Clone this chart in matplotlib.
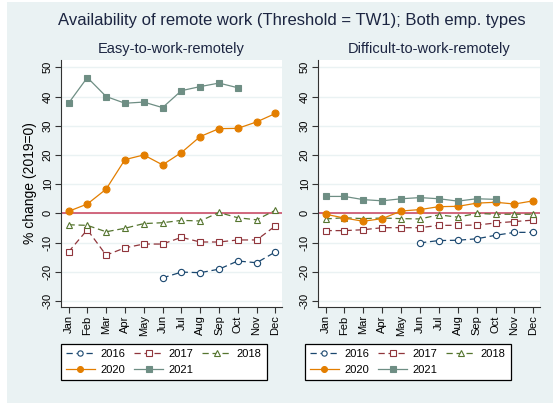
import numpy as np
import matplotlib
matplotlib.use('Agg')
import matplotlib.pyplot as plt
from matplotlib.patches import Rectangle

plt.rcParams['font.family'] = ['Liberation Sans', 'DejaVu Sans']

months = ['Jan', 'Feb', 'Mar', 'Apr', 'May', 'Jun', 'Jul', 'Aug', 'Sep', 'Oct', 'Nov', 'Dec']
nan = np.nan

# % change relative to 2019, by month
easy_2016 = [nan, nan, nan, nan, nan, -22.1, -20.1, -20.3, -19.1, -16.3, -16.9, -13.2]
easy_2017 = [-13.2, -5.6, -14.3, -11.8, -10.5, -10.5, -8.2, -9.8, -9.8, -9.1, -9.1, -4.3]
easy_2018 = [-3.9, -4.1, -6.3, -5.1, -3.5, -3.2, -2.4, -2.6, 0.3, -1.5, -2.2, 1.1]
easy_2020 = [0.7, 3.2, 8.3, 18.4, 20.0, 16.6, 20.8, 26.3, 29.0, 29.1, 31.3, 34.2]
easy_2021 = [37.7, 46.5, 40.0, 37.7, 38.1, 36.2, 42.0, 43.4, 44.6, 43.0, nan, nan]

diff_2016 = [nan, nan, nan, nan, nan, -10.1, -9.3, -9.2, -8.7, -7.5, -6.5, -6.5]
diff_2017 = [-5.9, -5.9, -5.6, -4.9, -4.9, -4.9, -4.1, -4.1, -4.0, -3.3, -2.8, -2.3]
diff_2018 = [-1.9, -1.5, -1.8, -1.6, -1.8, -1.9, -0.5, -1.3, 0.0, -0.3, -0.3, -0.3]
diff_2020 = [-0.3, -1.6, -2.7, -1.8, 0.8, 1.3, 2.3, 2.4, 3.5, 3.8, 3.2, 4.3]
diff_2021 = [5.8, 5.8, 4.7, 4.3, 5.0, 5.4, 5.0, 4.2, 5.0, 4.8, nan, nan]

yticks = [-30, -20, -10, 0, 10, 20, 30, 40, 50]

# year -> (color, marker, filled, dashed)
styles = {
    '2016': ('#1A476F', 'o', False, True),
    '2017': ('#90353B', 's', False, True),
    '2018': ('#55752F', '^', False, True),
    '2020': ('#E37E00', 'o', True, False),
    '2021': ('#6E8E84', 's', True, False),
}

W, H = 553, 403
fig = plt.figure(figsize=(W / 100, H / 100), dpi=100)
fig.patch.set_facecolor('white')
bg = '#EAF2F3'
fig.add_artist(Rectangle((7 / W, 0), 1, 1 - 2 / H, transform=fig.transFigure,
                         facecolor=bg, edgecolor='none', zorder=-10))


def px_axes(x0, x1, y0, y1):
    return fig.add_axes([x0 / W, 1 - y1 / H, (x1 - x0) / W, (y1 - y0) / H])


def draw_panel(ax, series, subtitle):
    x = np.arange(1, 13)
    ax.set_facecolor('white')
    for yt in yticks:
        ax.axhline(yt, color=bg, lw=1.0, zorder=1)
    ax.axhline(0, color='#C8405C', lw=1.1, zorder=2)
    handles = {}
    for year, vals in series.items():
        c, m, filled, dashed = styles[year]
        ms = 5 if filled else 4.5
        h, = ax.plot(x, vals, color=c, lw=0.9, ls=(0, (5, 3)) if dashed else '-',
                     marker=m, markersize=ms, markeredgewidth=0.8,
                     markerfacecolor=c if filled else 'white', markeredgecolor=c,
                     label=year, zorder=3)
        handles[year] = h
    ax.set_xlim(0.6, 12.35)
    ax.set_ylim(-32.05, 52.5)
    ax.set_xticks(x)
    ax.set_xticklabels(months, rotation=90, fontsize=8)
    ax.set_yticks(yticks)
    ax.set_yticklabels([str(v) for v in yticks], rotation=90, va='center', fontsize=8)
    for s in ['top', 'right']:
        ax.spines[s].set_visible(False)
    for s in ['left', 'bottom']:
        ax.spines[s].set_color('#333333')
        ax.spines[s].set_linewidth(0.8)
    ax.tick_params(length=4, width=0.8, color='#333333', pad=2, labelcolor='black')
    ax.set_title(subtitle, fontsize=10.5, color='#1c2541', pad=5)
    return handles


ax1 = px_axes(61, 282, 60, 307)
ax2 = px_axes(318, 540, 60, 307)

h1 = draw_panel(ax1, {'2016': easy_2016, '2017': easy_2017, '2018': easy_2018,
                      '2020': easy_2020, '2021': easy_2021}, 'Easy-to-work-remotely')
h2 = draw_panel(ax2, {'2016': diff_2016, '2017': diff_2017, '2018': diff_2018,
                      '2020': diff_2020, '2021': diff_2021}, 'Difficult-to-work-remotely')
ax1.set_ylabel('% change (2019=0)', fontsize=10, labelpad=4)

order = ['2016', '2020', '2017', '2021', '2018']
for h, x0 in [(h1, 61), (h2, 305)]:
    leg = fig.legend([h[k] for k in order], order, ncol=3, loc='upper left',
                     bbox_to_anchor=(x0 / W, 1 - 344 / H), fontsize=8,
                     frameon=True, fancybox=False, handlelength=2.6,
                     columnspacing=0.8, handletextpad=0.5, borderpad=0.45,
                     labelspacing=0.55, borderaxespad=0, markerscale=0.85)
    leg.get_frame().set_edgecolor('black')
    leg.get_frame().set_linewidth(0.9)
    leg.get_frame().set_alpha(1)

fig.text(292 / W, 1 - 20 / H, 'Availability of remote work (Threshold = TW1); Both emp. types',
         ha='center', va='center', fontsize=12, color='#1c2541')

fig.savefig('out.png', dpi=100, facecolor=fig.get_facecolor())
